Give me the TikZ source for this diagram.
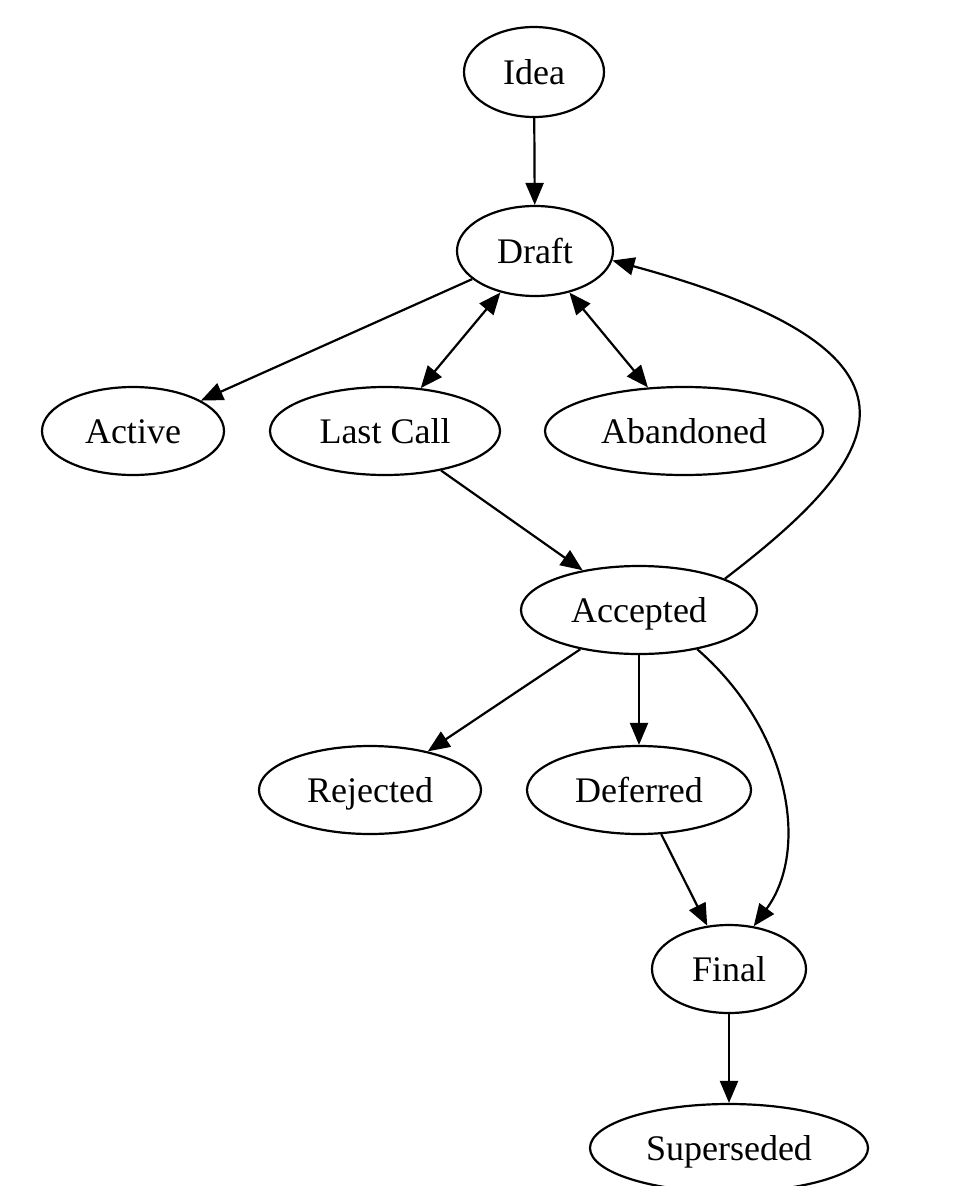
\documentclass[tikz,border=0pt]{standalone}
\usepackage{fontspec}
\setmainfont{Liberation Serif}
\usetikzlibrary{shapes.geometric,arrows.meta}
\begin{document}
\begin{tikzpicture}[x=1pt,y=-1pt,
  st/.style 2 args={ellipse,draw,line width=2.2pt,inner sep=0pt,minimum width=#1pt,minimum height=#2pt,text height=28pt,text depth=4pt,font=\fontsize{36}{40}\selectfont},
  edge/.style={line width=2.2pt,-{Triangle[length=22pt,width=18pt]}},
  bi/.style={line width=2.2pt,{Triangle[length=22pt,width=18pt]}-{Triangle[length=22pt,width=18pt]}}]
\useasboundingbox (0,0) rectangle (960,1186);
\fill[white] (0,0) rectangle (960,1186);
\node[st={140}{90}] (idea) at (534,72) {Idea};
\node[st={156}{90}] (draft) at (535,251) {Draft};
\node[st={182}{88}] (active) at (133,431) {Active};
\node[st={230}{88}] (lastcall) at (385,431) {Last Call};
\node[st={278}{88}] (abandoned) at (684,431) {Abandoned};
\node[st={236}{88}] (accepted) at (639,610) {Accepted};
\node[st={222}{88}] (rejected) at (370,790) {Rejected};
\node[st={224}{88}] (deferred) at (639,790) {Deferred};
\node[st={154}{88}] (final) at (729,969) {Final};
\node[st={278}{88}] (superseded) at (729,1148) {Superseded};

\draw[edge] (idea) -- (draft);
\draw[edge] (draft) -- (active);
\draw[bi] (draft) -- (lastcall);
\draw[bi] (draft) -- (abandoned);
\draw[edge] (lastcall) -- (accepted);
\draw[edge] (accepted.20) .. controls (880,460) and (960,355) .. (draft.-7);
\draw[edge] (accepted) -- (rejected);
\draw[edge] (accepted) -- (deferred);
\draw[edge] (accepted.-34) .. controls (790,730) and (810,850) .. (final.60);
\draw[edge] (deferred) -- (final);
\draw[edge] (final) -- (superseded);
\end{tikzpicture}
\end{document}
